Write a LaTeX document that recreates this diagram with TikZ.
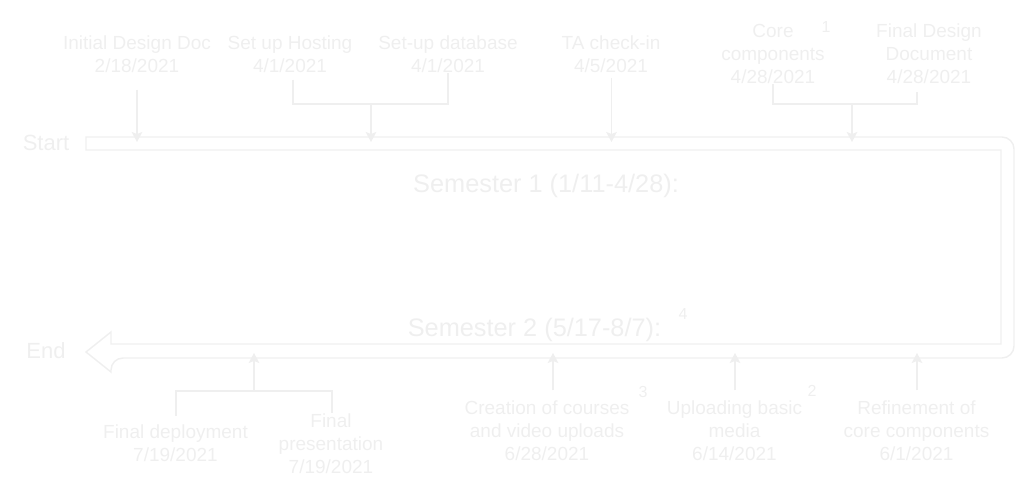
\documentclass[tikz,border=0pt]{standalone}
\usepackage{fontspec}
\setmainfont{Liberation Sans}
\usepackage{xcolor}
\usetikzlibrary{positioning, arrows.meta, calc}
\definecolor{tlgrey}{HTML}{EFEFEF}

\begin{document}
\begin{tikzpicture}[
  x=0.75pt, y=-0.75pt,
  lbl/.style={text=tlgrey, align=center, inner sep=0pt,
    font=\fontsize{14.25}{17.25}\selectfont},
  endlbl/.style={text=tlgrey, inner sep=0pt, font=\fontsize{16.5}{19}\selectfont},
  semlbl/.style={text=tlgrey, inner sep=0pt, font=\fontsize{19}{22}\selectfont},
  supnum/.style={text=tlgrey, inner sep=0pt, font=\fontsize{12}{14}\selectfont},
  ln/.style={draw=tlgrey, line width=1.1pt},
  arr/.style={ln, -{Stealth[width=8pt, length=7.5pt, inset=1.5pt]}},
  band/.style={draw=tlgrey, line width=1.1pt}
]
\useasboundingbox (0,0) rectangle (1029,492);

% timeline band
\draw[band] (86,137) [rounded corners=9pt] -- (1014,137) -- (1014,358) -- (111,358)
  [sharp corners] -- (111,372) -- (86,352) -- (111,332) -- (111,344)
  -- (1001,344) -- (1001,150) -- (86,150) -- cycle;
\coordinate (s1top) at (0,142);
\coordinate (s2bot) at (0,353);

\node[endlbl] (start) at (46,143) {Start};
\node[endlbl] (end) at (46,351) {End};
\node[semlbl] (sem1) at (546,185.5) {Semester 1 (1/11-4/28):};
\node[semlbl] (sem2) at (534.5,329.5) {Semester 2 (5/17-8/7):};

% semester 1 milestones
\node[lbl] (initdoc) at (137,54) {Initial Design Doc\\2/18/2021};
\node[lbl] (hosting) at (290,54) {Set up Hosting\\4/1/2021};
\node[lbl] (database) at (448,54) {Set-up database\\4/1/2021};
\node[lbl] (tacheck) at (611,54) {TA check-in\\4/5/2021};
\node[lbl] (corecomp) at (773,54) {Core\\components\\4/28/2021};
\node[lbl] (finaldoc) at (929,54) {Final Design\\Document\\4/28/2021};
\node[supnum] (sup1) at (826,27) {1};

% semester 2 milestones
\node[lbl] (deploy) at (175.5,443.5) {Final deployment\\7/19/2021};
\node[lbl] (present) at (331,443.5) {Final\\presentation\\7/19/2021};
\node[lbl] (courses) at (547,430.5) {Creation of courses\\and video uploads\\6/28/2021};
\node[lbl] (media) at (734.5,430.5) {Uploading basic\\media\\6/14/2021};
\node[lbl] (refine) at (916.5,430.5) {Refinement of\\core components\\6/1/2021};
\node[supnum] (sup2) at (812,391) {2};
\node[supnum] (sup3) at (643,392) {3};
\node[supnum] (sup4) at (683,314) {4};

\coordinate (jhost) at (371,104);
\coordinate (jcore) at (852,104);
\coordinate (jfinal) at (254,391);

\draw[arr] ($(initdoc.south)+(0,17)$) -- (initdoc |- s1top);
\draw[ln] ($(hosting.south)+(3,7)$) |- (jhost) -| (database.south);
\draw[arr] (jhost) -- (jhost |- s1top);
\draw[arr] ($(tacheck.south)+(0.5,5)$) -- ($(tacheck.south |- s1top)+(0.5,0)$);
\draw[ln] (corecomp.south) |- (jcore) -| ($(finaldoc.south)+(-12,8)$);
\draw[arr] (jcore) -- (jcore |- s1top);

\draw[ln] ($(deploy.north)+(0.5,-9)$) |- (jfinal) -| ($(present.north)+(1,0)$);
\draw[arr] (jfinal) -- (jfinal |- s2bot);
\draw[arr] ($(courses.north)+(6,-10)$) -- ($(courses.north |- s2bot)+(6,0)$);
\draw[arr] ($(media.north)+(0.5,-10)$) -- ($(media.north |- s2bot)+(0.5,0)$);
\draw[arr] ($(refine.north)+(0.5,-10)$) -- ($(refine.north |- s2bot)+(0.5,0)$);
\end{tikzpicture}
\end{document}
